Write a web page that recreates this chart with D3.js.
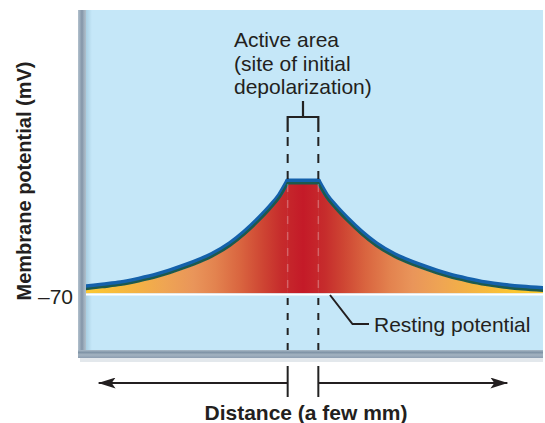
<!DOCTYPE html>
<html><head><meta charset="utf-8">
<script src="https://cdn.jsdelivr.net/npm/d3@7"></script>
<style>
html,body{margin:0;padding:0;background:#fff;}
svg{display:block;font-family:"Liberation Sans",Arial,Helvetica,sans-serif;}
</style></head>
<body><svg id="chart" width="545" height="423"></svg>
<script>
// ---- data ----
const leftDistance  = [-3.0, -2.75, -2.5, -2.25, -2.0, -1.75, -1.5, -1.25, -1.0, -0.8, -0.6, -0.45, -0.32, -0.21];
const leftPotential = [-69.6, -69.3, -69.0, -68.5, -67.9, -67.1, -66.2, -65.1, -63.6, -62.0, -60.1, -58.5, -56.9, -55.0];
const topDistance   = [-0.21, 0.21];
const topPotential  = [-55.0, -55.0];
const rightDistance  = [0.21, 0.32, 0.45, 0.6, 0.8, 1.0, 1.25, 1.5, 1.75, 2.0, 2.25, 2.5, 2.75, 3.0, 3.3];
const rightPotential = [-55.0, -56.9, -58.5, -60.1, -62.0, -63.6, -65.1, -66.2, -67.1, -67.9, -68.5, -69.0, -69.35, -69.6, -69.8];
const restingPotential = -70;
const yTicks = [-70];
const yTickLabels = ["\u201370"];
const activeArea = [-0.21, 0.21];
const arrowExtent = [-2.8, 2.8];
const annotationLines = ["Active area", "(site of initial", "depolarization)"];
const restingLabel = "Resting potential";
const yTitle = "Membrane potential (mV)";
const xTitle = "Distance (a few mm)";
const gradStops = [[-3.3,"#fdcb30"],[-2.9,"#fbc632"],[-2.3,"#f4b343"],[-1.9,"#efa553"],[-1.5,"#e9955a"],[-1.2,"#e3834f"],[-0.85,"#d9643f"],[-0.55,"#ce4533"],[-0.3,"#c62c2c"],[0,"#c41a28"],[0.3,"#c62c2c"],[0.55,"#ce4533"],[0.85,"#d9643f"],[1.2,"#e3834f"],[1.5,"#e9955a"],[1.9,"#efa553"],[2.3,"#f4b343"],[2.9,"#fbc632"],[3.3,"#fdcb30"]];

const toPts = (ds, vs) => ds.map((d,i)=>({d, v: vs[i]}));
const segments = [
  {pts: toPts(leftDistance, leftPotential), curve: d3.curveMonotoneX},
  {pts: toPts(topDistance, topPotential), curve: d3.curveLinear},
  {pts: toPts(rightDistance, rightPotential), curve: d3.curveMonotoneX}
];

// ---- layout ----
const svg = d3.select("#chart");
const panel = {x0: 86, x1: 543, y0: 10, y1: 350};
const x = d3.scaleLinear().domain([-3, 3]).range([84, 522]);
const y = d3.scaleLinear().domain([-70, -55]).range([293, 184]);

const defs = svg.append("defs");
const lg = defs.append("linearGradient").attr("id","fillGrad").attr("gradientUnits","userSpaceOnUse")
  .attr("x1", x(-3.3)).attr("x2", x(3.3)).attr("y1",0).attr("y2",0);
gradStops.forEach(s=>lg.append("stop").attr("offset",(s[0]+3.3)/6.6).attr("stop-color",s[1]));
const lb = defs.append("linearGradient").attr("id","leftBorder").attr("x1",0).attr("x2",1).attr("y1",0).attr("y2",0);
[[0,"#b3c1cd"],[0.25,"#9aabbb"],[0.5,"#8395a8"],[0.75,"#9eafbe"],[1,"#b0c0cc"]].forEach(s=>lb.append("stop").attr("offset",s[0]).attr("stop-color",s[1]));
const bb = defs.append("linearGradient").attr("id","botBorder").attr("x1",0).attr("x2",0).attr("y1",0).attr("y2",1);
[[0,"#a9bac7"],[0.3,"#7f93a6"],[0.6,"#a3b3c1"],[1,"#8c9db0"]].forEach(s=>bb.append("stop").attr("offset",s[0]).attr("stop-color",s[1]));
const inner = defs.append("linearGradient").attr("id","innerShade").attr("x1",0).attr("x2",1).attr("y1",0).attr("y2",0);
inner.append("stop").attr("offset",0).attr("stop-color","#a9cfe3");
inner.append("stop").attr("offset",1).attr("stop-color","#c5e7f8");
defs.append("clipPath").attr("id","clipPanel").append("rect")
  .attr("x",panel.x0).attr("y",panel.y0).attr("width",panel.x1-panel.x0).attr("height",panel.y1-panel.y0);

// panel
svg.append("rect").attr("x",80).attr("y",358).attr("width",panel.x1-80).attr("height",4).attr("fill","#e3e8ec");
svg.append("rect").attr("x",panel.x0).attr("y",panel.y0).attr("width",panel.x1-panel.x0).attr("height",panel.y1-panel.y0).attr("fill","#c5e7f8");
svg.append("rect").attr("x",panel.x0).attr("y",panel.y0).attr("width",6).attr("height",panel.y1-panel.y0).attr("fill","url(#innerShade)");
svg.append("rect").attr("x",78).attr("y",panel.y0).attr("width",8).attr("height",358-panel.y0).attr("fill","url(#leftBorder)");
svg.append("rect").attr("x",78).attr("y",panel.y1).attr("width",panel.x1-78).attr("height",8).attr("fill","url(#botBorder)");

const g = svg.append("g").attr("clip-path","url(#clipPanel)");

// area (one path per segment)
segments.forEach(s=>{
  const area = d3.area().x(p=>x(p.d)).y0(y(restingPotential)).y1(p=>y(p.v)).curve(s.curve);
  g.append("path").datum(s.pts).attr("d",area).attr("fill","url(#fillGrad)")
    .attr("stroke","url(#fillGrad)").attr("stroke-width",0.6);
});

// resting white line
g.append("line").attr("x1",panel.x0).attr("x2",panel.x1).attr("y1",y(restingPotential)+1.5).attr("y2",y(restingPotential)+1.5)
  .attr("stroke","#ffffff").attr("stroke-width",2.2);

// curve strokes
[{dy:-3, c:"#1461ab", w:5}, {dy:-0.8, c:"#1d5a4c", w:2.4}].forEach(st=>{
  segments.forEach(s=>{
    const line = d3.line().x(p=>x(p.d)).y(p=>y(p.v)).curve(s.curve);
    g.append("path").datum(s.pts).attr("d",line).attr("transform",`translate(0,${st.dy})`)
      .attr("fill","none").attr("stroke",st.c).attr("stroke-width",st.w)
      .attr("stroke-linejoin","round").attr("stroke-linecap","round");
  });
});

// dashed lines
activeArea.forEach(a=>{
  const vx = x(a);
  const topCurve = y(-55) - 5;
  svg.append("line").attr("x1",vx).attr("x2",vx).attr("y1",137).attr("y2",topCurve)
    .attr("stroke","#222").attr("stroke-width",2).attr("stroke-dasharray","9,8");
  svg.append("line").attr("x1",vx).attr("x2",vx).attr("y1",y(-55)).attr("y2",y(restingPotential))
    .attr("stroke","rgba(255,255,255,0.25)").attr("stroke-width",1.5).attr("stroke-dasharray","8,8");
  svg.append("line").attr("x1",vx).attr("x2",vx).attr("y1",y(restingPotential)+5).attr("y2",352)
    .attr("stroke","#222").attr("stroke-width",2).attr("stroke-dasharray","7,8");
  svg.append("line").attr("x1",vx).attr("x2",vx).attr("y1",366).attr("y2",397)
    .attr("stroke","#222").attr("stroke-width",2);
});

// bracket
const bx0 = x(activeArea[0]), bx1 = x(activeArea[1]), bxm = x(0);
svg.append("path").attr("d",`M${bx0},132V117H${bx1}V132M${bxm},117V101`)
  .attr("fill","none").attr("stroke","#222").attr("stroke-width",2.2);

// annotation text
const ann = svg.append("text").attr("x",234).attr("y",47).attr("font-size",21).attr("fill","#231f20");
annotationLines.forEach((t,i)=>ann.append("tspan").attr("x",234).attr("y",47+i*23.5).text(t));

// resting leader + label
const ry = y(restingPotential);
svg.append("path").attr("d",`M330,${ry+2}L352.5,${ry+31}H369`).attr("fill","none").attr("stroke","#231f20").attr("stroke-width",2);
svg.append("text").attr("x",374).attr("y",332).attr("font-size",21).attr("fill","#231f20").text(restingLabel);

// y axis (tick only)
const yAxis = d3.axisLeft(y).tickValues(yTicks).tickSize(0).tickPadding(0).tickFormat((d,i)=>yTickLabels[i]);
const ya = svg.append("g").attr("transform","translate(73,0)").call(yAxis);
ya.select(".domain").remove();
ya.selectAll("text").attr("font-size",21).attr("font-family","Liberation Sans, Arial, sans-serif").attr("fill","#231f20").attr("dy","0.35em").attr("y",3);

svg.append("text").attr("transform","translate(31,181) rotate(-90)").attr("text-anchor","middle")
  .attr("font-size",20).attr("font-weight","bold").attr("fill","#231f20").text(yTitle);

// distance arrows
const ay = 383;
defs.append("marker").attr("id","ah").attr("viewBox","0 0 17 11").attr("refX",17).attr("refY",5.5)
  .attr("markerWidth",17).attr("markerHeight",11).attr("markerUnits","userSpaceOnUse").attr("orient","auto")
  .append("path").attr("d","M0,0L17,5.5L0,11L4,5.5Z").attr("fill","#231f20");
svg.append("line").attr("x1",x(activeArea[0])).attr("x2",x(arrowExtent[0])).attr("y1",ay).attr("y2",ay)
  .attr("stroke","#231f20").attr("stroke-width",2).attr("marker-end","url(#ah)");
svg.append("line").attr("x1",x(activeArea[1])).attr("x2",x(arrowExtent[1])).attr("y1",ay).attr("y2",ay)
  .attr("stroke","#231f20").attr("stroke-width",2).attr("marker-end","url(#ah)");

svg.append("text").attr("x",306).attr("y",420).attr("text-anchor","middle").attr("font-size",21)
  .attr("font-weight","bold").attr("fill","#231f20").text(xTitle);
</script></body></html>
